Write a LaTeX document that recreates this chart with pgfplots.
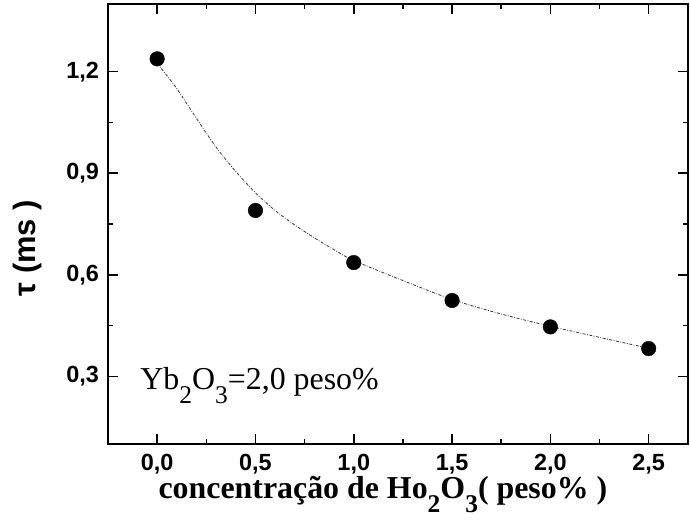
\documentclass[border=0pt]{standalone}
\usepackage{fontspec}
\setmainfont{Liberation Serif}
\setsansfont{Liberation Sans}
\usepackage{graphicx}
\usepackage{pgfplots}
\usepackage{pgfplotstable}
\pgfplotsset{compat=1.18}

% deep, slightly reduced subscripts
\newcommand\lsub[1]{\raisebox{-0.45em}{\scalebox{0.8}{#1}}}

% measured lifetimes
\pgfplotstableread{
x y
0.0 1.238
0.5 0.790
1.0 0.636
1.5 0.524
2.0 0.446
2.5 0.382
}\measured

% fitted decay curve
\pgfplotstableread{
x y
0.00 1.225
0.10 1.150
0.20 1.062
0.30 0.977
0.40 0.905
0.50 0.842
0.60 0.790
0.70 0.747
0.80 0.709
0.90 0.674
1.00 0.642
1.25 0.583
1.50 0.527
1.75 0.484
2.00 0.448
2.25 0.415
2.50 0.383
}\fitcurve

\begin{document}
\begin{tikzpicture}
\begin{axis}[
  scale only axis,
  width=580bp, height=440bp,
  xmin=-0.25, xmax=2.7,
  ymin=0.1, ymax=1.4,
  xtick={0,0.5,1,1.5,2,2.5},
  ytick={0.3,0.6,0.9,1.2},
  minor x tick num=1,
  minor y tick num=1,
  tick align=inside,
  major tick length=10bp,
  minor tick length=5bp,
  axis line style={line width=2bp},
  every tick/.style={line width=1.5bp, black},
  ticklabel style={font=\fontsize{23.5}{28}\selectfont\sffamily\bfseries, inner sep=0pt},
  xticklabel style={anchor=base, yshift=-26bp},
  yticklabel style={anchor=east, xshift=-9bp},
  /pgf/number format/.cd, assume math mode=true, use comma, fixed, fixed zerofill, precision=1,
  /pgfplots/.cd,
  xlabel={concentração de Ho\lsub{2}O\lsub{3}( peso\% )},
  xlabel style={at={(axis description cs:0.474,0)}, anchor=base, yshift=-54bp, inner sep=0pt,
    font=\fontsize{32}{36}\selectfont\bfseries},
  ylabel={τ (ms )},
  ylabel style={at={(axis description cs:-0.138,0.445)}, anchor=center,
    font=\fontsize{31}{35}\selectfont\sffamily\bfseries},
]
\addplot[no marks, smooth, line width=0.8bp, black!80,
  dash pattern=on 3bp off 1.5bp on 0.8bp off 1.5bp] table {\fitcurve};
\addplot[only marks, mark=*, mark size=7.3bp, black] table {\measured};
\node[anchor=base west, inner sep=0pt, font=\fontsize{32}{36}\selectfont]
  at (axis cs:-0.086,0.261) {Yb\lsub{2}O\lsub{3}=2,0 peso\%};
\end{axis}
\pgfresetboundingbox
\path[use as bounding box] ([shift={(-108bp,-78bp)}]current axis.south west)
  rectangle ([shift={(2bp,4bp)}]current axis.north east);
\end{tikzpicture}
\end{document}
